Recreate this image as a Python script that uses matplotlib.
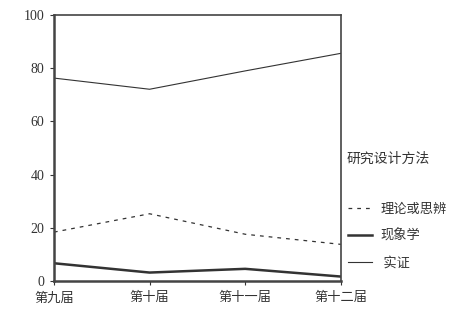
import matplotlib
matplotlib.use('Agg')
import matplotlib.pyplot as plt

plt.rcParams['font.family'] = ['Liberation Serif', 'Noto Sans CJK SC']
plt.rcParams['axes.unicode_minus'] = False

# 数据
sessions = ['第九届', '第十届', '第十一届', '第十二届']
theory = [18.4, 25.3, 17.6, 13.8]      # 理论或思辨
phenom = [6.7, 3.2, 4.6, 1.7]          # 现象学
empirical = [76.3, 72.1, 79.0, 85.6]   # 实证
yticks = [0, 20, 40, 60, 80, 100]

ink = '#333333'
fig = plt.figure(figsize=(4.65, 3.13), dpi=100)
ax = fig.add_axes([0.116, 0.102, 0.617, 0.850])

x = list(range(len(sessions)))
l1, = ax.plot(x, theory, color=ink, lw=0.9, dashes=(3, 4), label='理论或思辨')
l2, = ax.plot(x, phenom, color=ink, lw=1.8, label='现象学')
l3, = ax.plot(x, empirical, color=ink, lw=0.8, label=' 实证')

ax.set_xlim(0, 3)
ax.set_ylim(0, 100)
ax.set_xticks(x)
ax.set_xticklabels(sessions, fontsize=9.5, color=ink)
ax.set_yticks(yticks)
ax.set_yticklabels([str(v) for v in yticks], fontsize=10, color=ink)
ax.tick_params(length=3, width=0.8, color=ink)
ax.tick_params(axis='x', pad=5)
ax.tick_params(axis='y', pad=4)

for side in ['left', 'bottom']:
    ax.spines[side].set_linewidth(1.8)
for side in ['top', 'right']:
    ax.spines[side].set_linewidth(1.2)
for s in ax.spines.values():
    s.set_color('#444444')

fig.text(0.745, 0.49, '研究设计方法', fontsize=10, color=ink, va='center', ha='left')
leg = ax.legend(handles=[l1, l2, l3], loc='upper left', bbox_to_anchor=(0.735, 0.37),
                bbox_transform=fig.transFigure, frameon=False, fontsize=9.5,
                handlelength=1.8, handletextpad=0.6, labelspacing=1.02,
                borderpad=0, labelcolor=ink)

fig.savefig('out.png', dpi=100)
